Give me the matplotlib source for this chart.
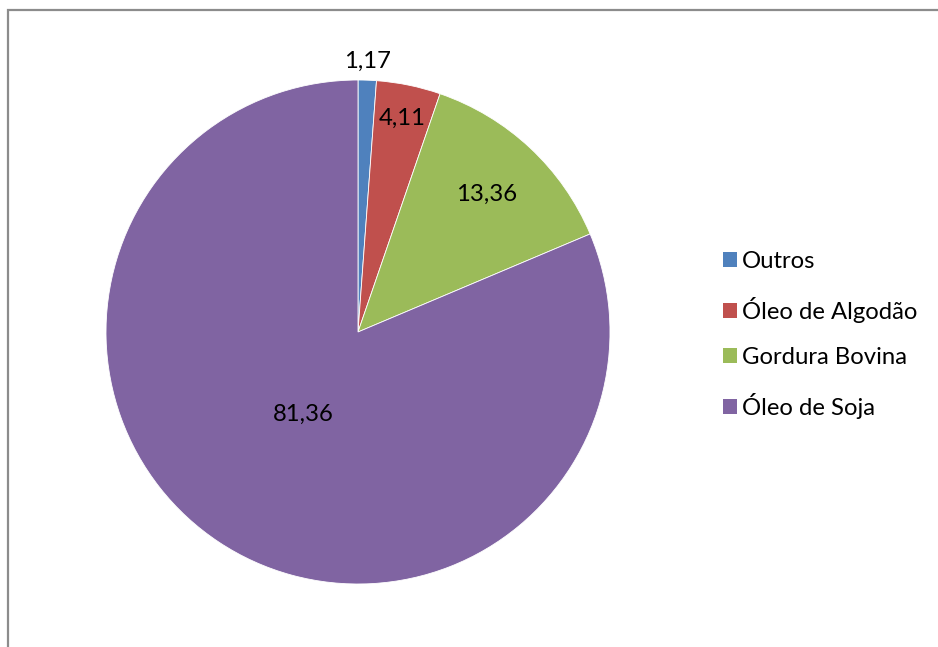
import numpy as np
import matplotlib
matplotlib.use("Agg")
import matplotlib.pyplot as plt
from matplotlib.patches import Rectangle, Patch

categories = ["Outros", "Óleo de Algodão", "Gordura Bovina", "Óleo de Soja"]
values = [1.17, 4.11, 13.36, 81.36]
value_labels = ["1,17", "4,11", "13,36", "81,36"]
colors = ["#4F81BD", "#C0504D", "#9BBB59", "#8064A2"]
label_radius = [1.075, 0.865, 0.75, 0.39]

plt.rcParams['font.family'] = ['Lato', 'DejaVu Sans']

W, H = 938, 647
fig = plt.figure(figsize=(W / 100, H / 100), dpi=100)
ax = fig.add_axes([0, 0, 1, 1])

cx, cy, R = 358, H - 332, 252
wedges, _ = ax.pie(values, colors=colors, startangle=90, counterclock=False,
                   center=(cx, cy), radius=R,
                   wedgeprops=dict(edgecolor="white", linewidth=0.6))
ax.set_xlim(0, W)
ax.set_ylim(0, H)
ax.set_aspect("equal")
ax.axis("off")

# labels
total = sum(values)
cum = 0
for v, lab, rd in zip(values, value_labels, label_radius):
    mid = 90 - 360 * (cum + v / 2) / total
    cum += v
    x = cx + rd * R * np.cos(np.radians(mid))
    y = cy + rd * R * np.sin(np.radians(mid))
    ax.text(x, y, lab, ha="center", va="center", fontsize=17.2, color="black")

# border
ax.add_patch(Rectangle((8, -20), W + 20, H - 10 + 20, fill=False,
                       edgecolor="#8C8C8C", linewidth=1.6, clip_on=False))

handles = [Patch(facecolor=c, edgecolor="none") for c in colors]
leg = ax.legend(handles, categories, loc="upper left",
                bbox_to_anchor=(711 / W, 1 - 239 / H), frameon=False,
                fontsize=17.2, handlelength=0.58, handleheight=0.58,
                handletextpad=0.2, labelspacing=1.03, borderpad=0)

fig.savefig("out.png", dpi=100)
